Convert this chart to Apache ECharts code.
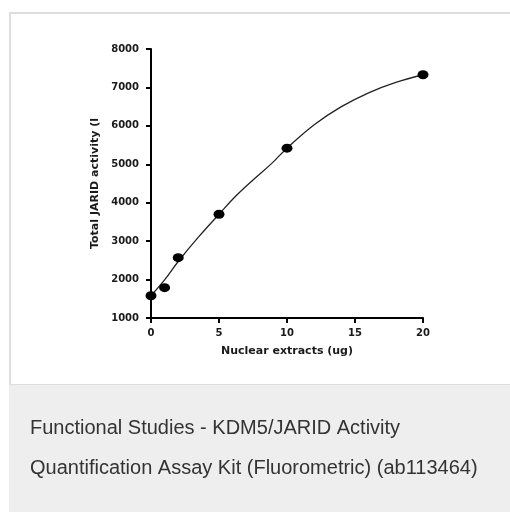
<!DOCTYPE html>
<html>
<head>
<meta charset="utf-8">
<script src="https://cdn.jsdelivr.net/npm/echarts@6/dist/echarts.min.js"></script>
<style>
  html, body { margin: 0; padding: 0; background: #ffffff; }
  #chart { width: 510px; height: 512px; }
</style>
</head>
<body>
<div id="chart"></div>
<script>
// Measured data points
const extractUg = [0, 1, 2, 5, 10, 20];
const activity = [1580, 1790, 2570, 3700, 5420, 7330];

// Fitted curve
const curveX = [0, 1, 2, 3.5, 5, 6.2, 7.4, 8.9, 10, 12, 14, 16, 18, 20];
const curveY = [1580, 1990, 2470, 3110, 3700, 4160, 4560, 5030, 5420, 6030, 6500, 6860, 7130, 7330];

// Axis ticks
const xTicks = [0, 5, 10, 15, 20];
const yTicks = [1000, 2000, 3000, 4000, 5000, 6000, 7000, 8000];

const xName = 'Nuclear extracts (ug)';
const yName = 'Total JARID activity (l';
const caption1 = 'Functional Studies - KDM5/JARID Activity';
const caption2 = 'Quantification Assay Kit (Fluorometric) (ab113464)';

const chart = echarts.init(document.getElementById('chart'), null, { renderer: 'canvas' });

const tickFont = { fontFamily: 'DejaVu Sans', fontWeight: 'bold', fontSize: 10, color: '#1a1a1a' };

chart.setOption({
  animation: false,
  backgroundColor: '#ffffff',
  graphic: [
    {
      type: 'rect', z: -10,
      shape: { x: 10, y: 13, width: 520, height: 372 },
      style: { fill: '#ffffff', stroke: '#dedede', lineWidth: 2 }
    },
    {
      type: 'rect', z: -9,
      shape: { x: 9, y: 385, width: 510, height: 140 },
      style: { fill: '#eeeeee' }
    },
    {
      type: 'text', left: 30, top: 418,
      style: { text: caption1, font: '20px "Liberation Sans", Arial, sans-serif', fill: '#333333' }
    },
    {
      type: 'text', left: 30, top: 458,
      style: { text: caption2, font: '20px "Liberation Sans", Arial, sans-serif', fill: '#333333' }
    }
  ],
  grid: { left: 151, top: 49, right: 87, bottom: 194 },
  xAxis: {
    type: 'value',
    min: xTicks[0], max: xTicks[xTicks.length - 1], interval: 5,
    name: xName, nameLocation: 'middle', nameGap: 28,
    nameTextStyle: { fontFamily: 'DejaVu Sans', fontWeight: 'bold', fontSize: 11, color: '#1a1a1a' },
    axisLine: { show: true, lineStyle: { color: '#000', width: 2 } },
    axisTick: { show: true, inside: false, length: 5, lineStyle: { color: '#000', width: 2 } },
    axisLabel: Object.assign({ margin: 10, formatter: (v) => String(v) }, tickFont),
    splitLine: { show: false }
  },
  yAxis: {
    type: 'value',
    min: yTicks[0], max: yTicks[yTicks.length - 1], interval: 1000,
    name: yName, nameLocation: 'middle', nameGap: 50, nameRotate: 90,
    nameTextStyle: { fontFamily: 'DejaVu Sans', fontWeight: 'bold', fontSize: 11, color: '#1a1a1a' },
    axisLine: { show: true, lineStyle: { color: '#000', width: 2 } },
    axisTick: { show: true, inside: false, length: 5, lineStyle: { color: '#000', width: 2 } },
    axisLabel: Object.assign({ margin: 12, formatter: (v) => String(v) }, tickFont),
    splitLine: { show: false }
  },
  series: [
    {
      type: 'line',
      data: curveX.map((x, i) => [x, curveY[i]]),
      smooth: 0.4,
      showSymbol: false,
      lineStyle: { color: '#222', width: 1.3 },
      z: 2
    },
    {
      type: 'scatter',
      data: extractUg.map((x, i) => [x, activity[i]]),
      symbol: 'circle',
      symbolSize: [11, 9],
      itemStyle: { color: '#000', opacity: 1 },
      clip: false,
      z: 3
    }
  ]
});
</script>
</body>
</html>
